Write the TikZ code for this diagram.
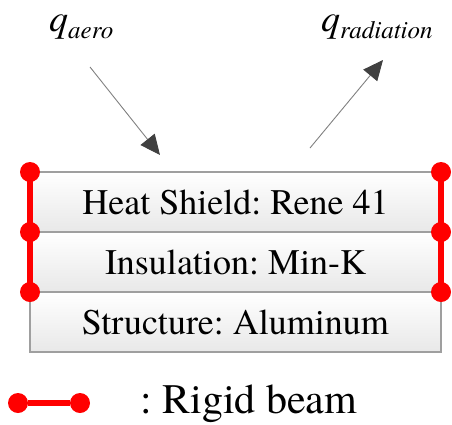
\documentclass[tikz,border=0pt]{standalone}
\usepackage{fontspec}
\setmainfont{texgyretermes}[Extension=.otf, UprightFont=*-regular, ItalicFont=*-italic, BoldFont=*-bold]
\usetikzlibrary{positioning,arrows.meta}
\frenchspacing

\newcommand{\fluxlabel}[1]{\textit{q}\raisebox{-0.2em}{\fontsize{25}{26}\selectfont\textit{#1}}}

\begin{document}
\begin{tikzpicture}[x=1pt,y=-1pt,node distance=0pt]
		\tikzstyle{layer} = [draw=gray!75, line width=1.2pt, top color=white, bottom color=gray!18, minimum width=411pt, minimum height=60pt, inner sep=0pt, outer sep=0pt, font=\fontsize{36}{40}\selectfont]
		\tikzstyle{flux} = [gray, line width=0.9pt, -{Triangle[length=20pt,width=18pt,color=black!75]}]
		\tikzstyle{beam} = [red, line width=6pt]
		\tikzstyle{joint} = [circle, fill=red, inner sep=0pt, minimum size=20pt]

		\useasboundingbox (0,0) rectangle (452,424);

		% Define the three layers
		\node[layer] (heat) at (235.5,202) {Heat Shield: Rene 41};
		\node[layer] (insul) [below=of heat] {Insulation: Min-K};
		\node[layer] (struct) [below=of insul] {Structure: Aluminum};

		% Heat flux labels and arrows
		\node[anchor=base west, inner sep=0pt, font=\fontsize{38}{40}\selectfont] (qaero) at (49,31) {\fluxlabel{aero}};
		\node[anchor=base west, inner sep=0pt, font=\fontsize{38}{40}\selectfont] (qrad) at (321,31) {\fluxlabel{radiation}};
		\coordinate (aeroA) at (90,67);
		\coordinate (aeroB) at (160,155);
		\coordinate (radA) at (310,148);
		\coordinate (radB) at (383,60);
		\draw[flux] (aeroA) -- (aeroB);
		\draw[flux] (radA) -- (radB);

		% Rigid beams on both sides
		\draw[beam] (heat.north west) -- (insul.south west);
		\draw[beam] (heat.north east) -- (insul.south east);
		\node[joint] (jl1) at (heat.north west) {};
		\node[joint] (jl2) at (heat.south west) {};
		\node[joint] (jl3) at (insul.south west) {};
		\node[joint] (jr1) at (heat.north east) {};
		\node[joint] (jr2) at (heat.south east) {};
		\node[joint] (jr3) at (insul.south east) {};

		% Legend
		\node[joint] (lg1) at (18,403) {};
		\node[joint] (lg2) at (80,403) {};
		\draw[beam] (lg1) -- (lg2);
		\node[anchor=base west, inner sep=0pt, font=\fontsize{42}{46}\selectfont] (lgtext) at (140,413) {: Rigid beam};

		\end{tikzpicture}
\end{document}
